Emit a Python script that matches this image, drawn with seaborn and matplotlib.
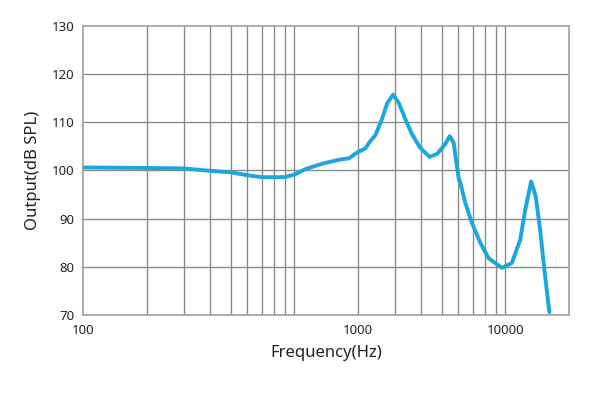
import numpy as np
import pandas as pd
import matplotlib
matplotlib.use('Agg')
import matplotlib.pyplot as plt
import seaborn as sns

# frequency response
freq_hz = [100, 200, 300, 400, 500, 600, 700, 762, 897, 1000, 1136, 1361, 1632,
           1819, 1969, 2181, 2262, 2432, 2613, 2759, 2945, 3133, 3372, 3622,
           3967, 4375, 4752, 5168, 5458, 5698, 5843, 6016, 6128, 6472, 6954,
           7619, 8341, 9639, 10745, 11772, 12430, 13270, 13950, 14630, 15330,
           16190]
output_db = [100.6, 100.5, 100.4, 99.9, 99.6, 99.0, 98.6, 98.6, 98.6, 99.1,
             100.3, 101.4, 102.2, 102.5, 103.6, 104.6, 105.7, 107.4, 110.8,
             113.9, 115.7, 113.9, 110.5, 107.4, 104.6, 102.8, 103.4, 105.3,
             107.1, 105.7, 102.2, 98.4, 97.4, 93.2, 89.1, 85.0, 81.8, 79.8,
             80.8, 85.6, 91.8, 97.7, 94.6, 87.7, 79.4, 70.6]

x_grid = [200, 300, 400, 500, 600, 700, 800, 900, 1000,
          2000, 3000, 4000, 5000, 6000, 7000, 8000, 9000, 10000]
x_tick_pos = [100, 2000, 10000]
x_tick_labels = ['100', '1000', '10000']
y_ticks = [70, 80, 90, 100, 110, 120, 130]

df = pd.DataFrame({'freq': freq_hz, 'db': output_db})

sns.set_style('white')
plt.rcParams['font.family'] = ['Noto Sans', 'DejaVu Sans']

fig = plt.figure(figsize=(5.9, 3.93), dpi=100)
ax = fig.add_axes([0.141, 0.198, 0.823, 0.737])

for xv in x_grid:
    ax.axvline(xv, color='#8a8a8a', lw=1.0, zorder=1)
for yv in y_ticks[1:-1]:
    ax.axhline(yv, color='#8a8a8a', lw=1.0, zorder=1)

sns.lineplot(data=df, x='freq', y='db', ax=ax, color='#1aa7dc', lw=2.8, zorder=3)
ax.lines[-1].set_solid_joinstyle('round')

ax.set_xscale('log')
ax.set_xlim(100, 20000)
ax.set_ylim(70, 130)
ax.xaxis.set_minor_locator(matplotlib.ticker.NullLocator())
ax.set_xticks(x_tick_pos)
ax.set_xticklabels(x_tick_labels)
ax.set_yticks(y_ticks)
ax.tick_params(length=0, labelsize=9.5, colors='#222222', pad=6)

for s in ax.spines.values():
    s.set_color('#a0a0a0')
    s.set_linewidth(1.2)

ax.set_xlabel('Frequency(Hz)', fontsize=12, color='#222222', labelpad=6)
ax.set_ylabel('Output(dB SPL)', fontsize=12, color='#222222', labelpad=8)

fig.savefig('out.png', dpi=100)
